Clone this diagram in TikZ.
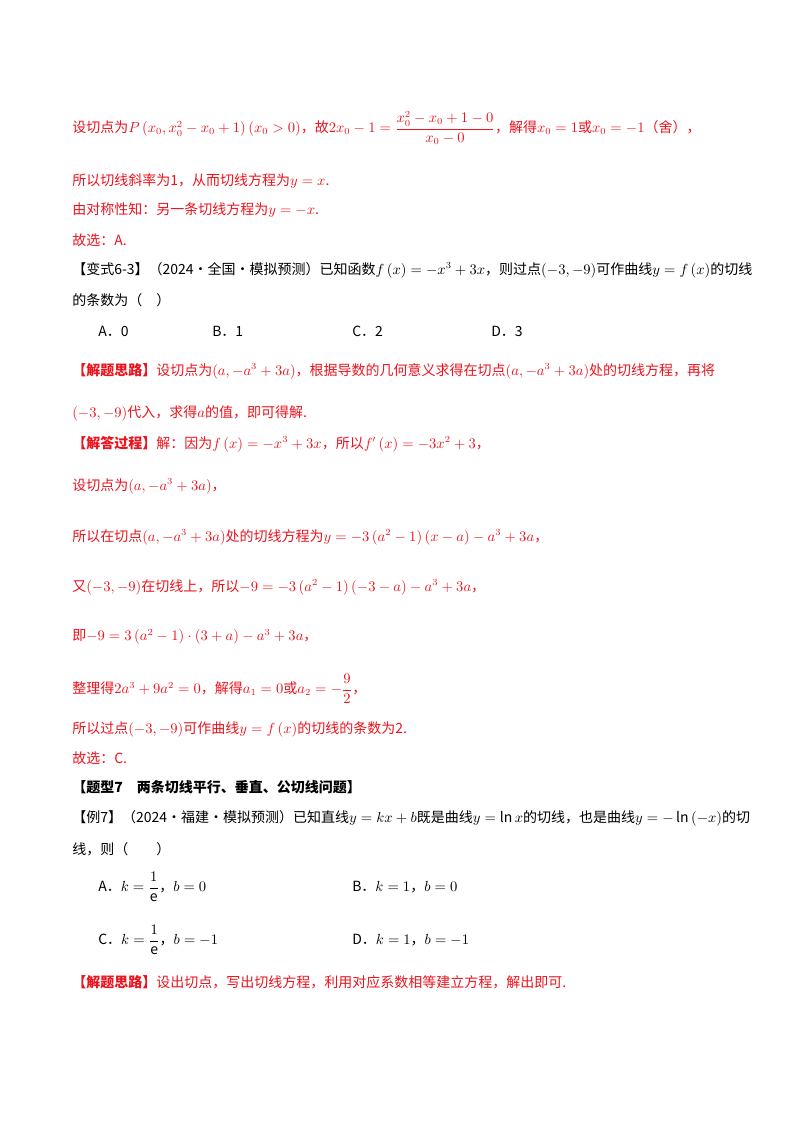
\documentclass[tikz,border=0pt]{standalone}
\usepackage{fontspec}
\usepackage{amsmath}
\setmainfont{Noto Sans CJK SC}
\definecolor{rd}{RGB}{235,20,30}
\begin{document}
\begin{tikzpicture}[x=0.75pt,y=-0.75pt,
  t/.style={anchor=west,inner sep=0pt,font=\fontsize{10.5}{12}\selectfont},
  r/.style={t,text=rd}]
\useasboundingbox[fill=white] (0,0) rectangle (800,1132);
\node[r] (l1) at (72,128) {设切点为$P\left(x_0,x_0^2-x_0+1\right)\left(x_0>0\right)$，故$2x_0-1=\dfrac{x_0^2-x_0+1-0}{x_0-0}$，解得$x_0=1$或$x_0=-1$（舍），};
\node[r] (l2) at (72,181) {所以切线斜率为1，从而切线方程为$y=x$.};
\node[r] (l3) at (72,210) {由对称性知：另一条切线方程为$y=-x$.};
\node[r] (l4) at (72,240) {故选：A.};
\node[t] (l5) at (72,270) {【变式6-3】（2024·全国·模拟预测）已知函数$f\left(x\right)=-x^3+3x$，则过点$\left(-3,-9\right)$可作曲线$y=f\left(x\right)$的切线};
\node[t] (l6) at (72,300) {的条数为（\quad）};
\node[t] (oA) at (98,331) {A．0};
\node[t] (oB) at (212,331) {B．1};
\node[t] (oC) at (352,331) {C．2};
\node[t] (oD) at (491,331) {D．3};
\node[r] (l7) at (72,371) {\textbf{【解题思路】}设切点为$\left(a,-a^3+3a\right)$，根据导数的几何意义求得在切点$\left(a,-a^3+3a\right)$处的切线方程，再将};
\node[r] (l8) at (72,413) {$\left(-3,-9\right)$代入，求得$a$的值，即可得解.};
\node[r] (l9) at (72,444) {\textbf{【解答过程】}解：因为$f\left(x\right)=-x^3+3x$，所以$f'\left(x\right)=-3x^2+3$，};
\node[r] (l10) at (72,486) {设切点为$\left(a,-a^3+3a\right)$，};
\node[r] (l11) at (72,537) {所以在切点$\left(a,-a^3+3a\right)$处的切线方程为$y=-3\left(a^2-1\right)\left(x-a\right)-a^3+3a$，};
\node[r] (l12) at (72,587) {又$\left(-3,-9\right)$在切线上，所以$-9=-3\left(a^2-1\right)\left(-3-a\right)-a^3+3a$，};
\node[r] (l13) at (72,637) {即$-9=3\left(a^2-1\right)\cdot\left(3+a\right)-a^3+3a$，};
\node[r] (l14) at (72,689) {整理得$2a^3+9a^2=0$，解得$a_1=0$或$a_2=-\dfrac{9}{2}$，};
\node[r] (l15) at (72,729) {所以过点$\left(-3,-9\right)$可作曲线$y=f\left(x\right)$的切线的条数为2.};
\node[r] (l16) at (72,758) {故选：C.};
\node[t] (l17) at (72,787) {\textbf{【题型7\quad 两条切线平行、垂直、公切线问题】}};
\node[t] (l18) at (72,818) {【例7】（2024·福建·模拟预测）已知直线$y=kx+b$既是曲线$y=\ln x$的切线，也是曲线$y=-\ln\left(-x\right)$的切};
\node[t] (l19) at (72,849) {线，则（\qquad）};
\node[t] (eA) at (98,887) {A．$k=\dfrac{1}{\mathrm{e}}$，$b=0$};
\node[t] (eB) at (352,887) {B．$k=1$，$b=0$};
\node[t] (eC) at (98,940) {C．$k=\dfrac{1}{\mathrm{e}}$，$b=-1$};
\node[t] (eD) at (352,940) {D．$k=1$，$b=-1$};
\node[r] (l20) at (72,982) {\textbf{【解题思路】}设出切点，写出切线方程，利用对应系数相等建立方程，解出即可.};
\end{tikzpicture}
\end{document}
